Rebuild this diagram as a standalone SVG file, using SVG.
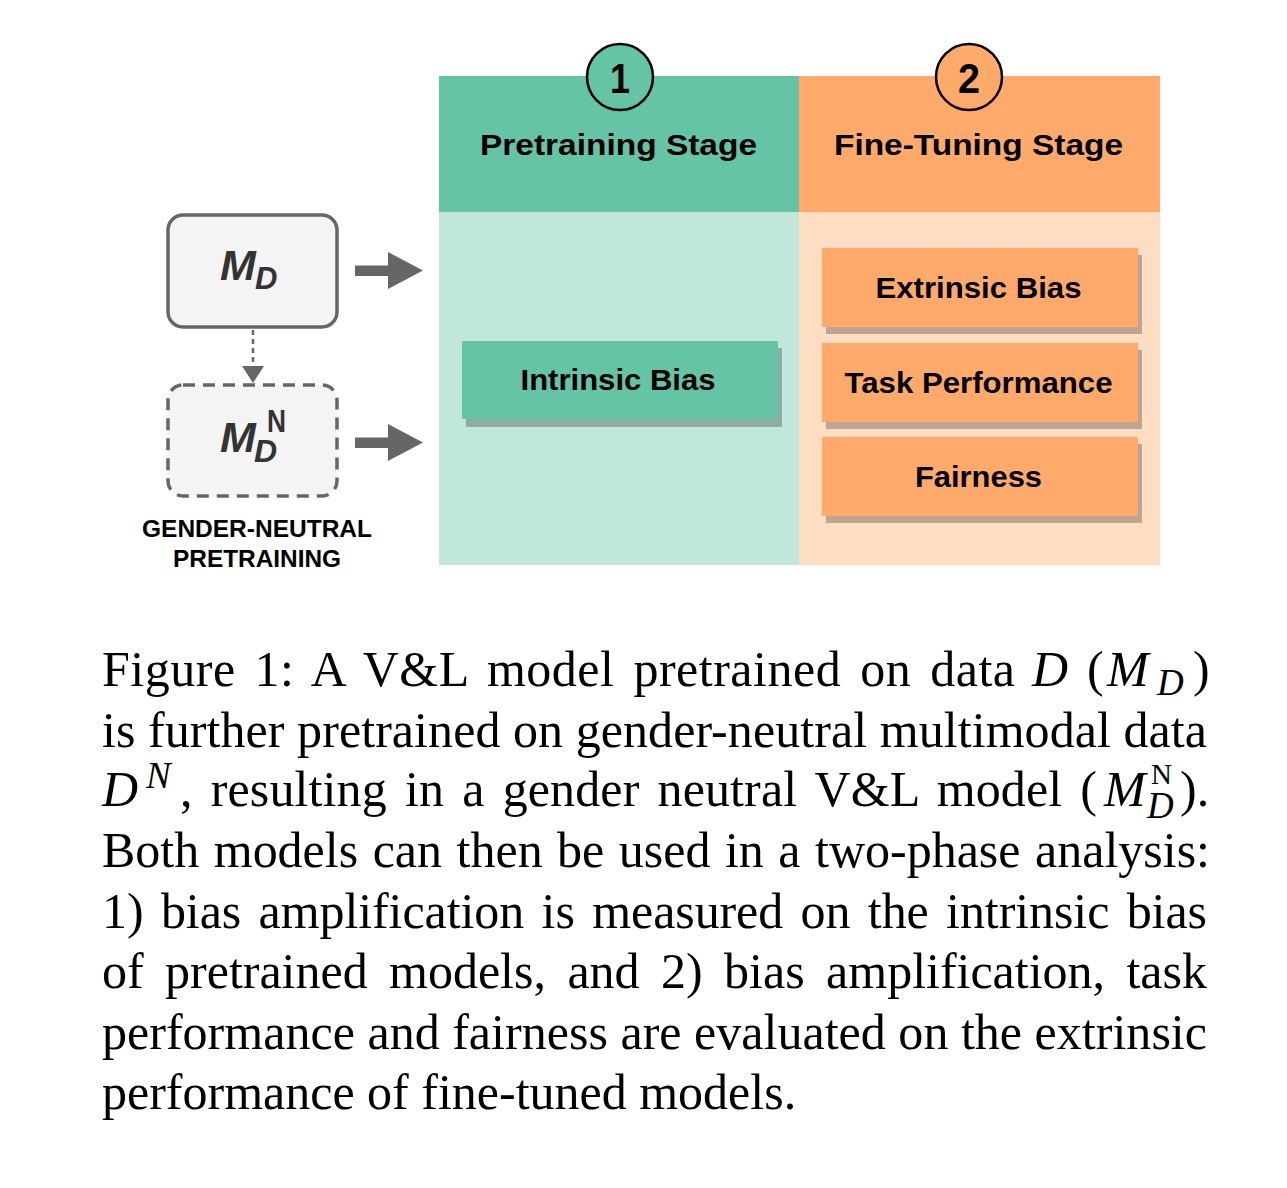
<svg xmlns="http://www.w3.org/2000/svg" width="1287" height="1188" viewBox="0 0 1287 1188">
<style>
.sans{font-family:"Liberation Sans",Arial,sans-serif;font-weight:bold;fill:#000}
.title{font-size:30px;text-anchor:middle}
.box{font-size:29px;text-anchor:middle}
.num{font-size:43px;text-anchor:middle}
.cap{font-family:"Liberation Serif","Times New Roman",serif;font-size:50px;fill:#000}
.cap.sub{font-size:37px}
.cap.sup{font-size:37px}
.cap.supn{font-size:29px}
.it{font-style:italic}
.shadow{fill:#000;fill-opacity:0.25}
.mtxt{font-family:"Liberation Sans",Arial,sans-serif;font-weight:bold;font-style:italic;fill:#333}
</style>
<rect x="0" y="0" width="1287" height="1188" fill="#fff"/>

<g id="stage1">
  <rect x="439" y="212" width="360" height="353" fill="#c0e7da"/>
  <rect x="439" y="76" width="360" height="136" fill="#64c4a5"/>
  <ellipse cx="620" cy="77" rx="33" ry="33" fill="#64c4a5" stroke="#000" stroke-width="2.5"/>
  <text class="sans num" x="620" y="93" textLength="20" lengthAdjust="spacingAndGlyphs">1</text>
  <text class="sans title" x="618.5" y="155" textLength="277" lengthAdjust="spacingAndGlyphs">Pretraining Stage</text>
</g>
<g id="stage2">
  <rect x="799" y="212" width="361" height="353" fill="#ffddc2"/>
  <rect x="799" y="76" width="361" height="136" fill="#ffaa6a"/>
  <ellipse cx="969" cy="77" rx="33" ry="33" fill="#ffaa6a" stroke="#000" stroke-width="2.5"/>
  <text class="sans num" x="969" y="93" textLength="22" lengthAdjust="spacingAndGlyphs">2</text>
  <text class="sans title" x="978.5" y="155" textLength="289" lengthAdjust="spacingAndGlyphs">Fine-Tuning Stage</text>
</g>

<g id="intrinsic-bias">
  <rect class="shadow" x="466" y="348" width="316" height="79"/>
  <rect x="462" y="341" width="316" height="78" fill="#64c4a5"/>
  <text class="sans box" x="618" y="390" textLength="195" lengthAdjust="spacingAndGlyphs">Intrinsic Bias</text>
</g>
<g id="extrinsic-bias">
  <rect class="shadow" x="826" y="255" width="316" height="79"/>
  <rect x="822" y="248" width="316" height="79" fill="#ffaa6a"/>
  <text class="sans box" x="978.5" y="298" textLength="206" lengthAdjust="spacingAndGlyphs">Extrinsic Bias</text>
</g>
<g id="task-performance">
  <rect class="shadow" x="826" y="350" width="316" height="79"/>
  <rect x="822" y="343" width="316" height="79" fill="#ffaa6a"/>
  <text class="sans box" x="978.5" y="393" textLength="268" lengthAdjust="spacingAndGlyphs">Task Performance</text>
</g>
<g id="fairness">
  <rect class="shadow" x="826" y="444" width="316" height="79"/>
  <rect x="822" y="437" width="316" height="79" fill="#ffaa6a"/>
  <text class="sans box" x="978.5" y="487" textLength="127" lengthAdjust="spacingAndGlyphs">Fairness</text>
</g>

<g id="model-md">
  <rect x="168" y="215" width="169" height="112" rx="15" ry="15" fill="#f4f4f4" stroke="#666" stroke-width="3.5"/>
  <text class="mtxt" x="220" y="280" font-size="43">M</text>
  <text class="mtxt" x="255" y="289" font-size="31">D</text>
</g>
<g id="model-mdn">
  <rect x="168" y="385" width="169" height="111" rx="15" ry="15" fill="#f4f4f4" stroke="#666" stroke-width="3.5" stroke-dasharray="12 8"/>
  <text class="mtxt" x="220" y="452" font-size="43">M</text>
  <text class="mtxt" x="254" y="462" font-size="32">D</text>
  <text class="sans" x="267" y="432" font-size="32" style="fill:#333" textLength="19" lengthAdjust="spacingAndGlyphs">N</text>
</g>
<g id="label-gender-neutral">
  <text class="sans" x="257" y="537" font-size="23" text-anchor="middle" textLength="230" lengthAdjust="spacingAndGlyphs">GENDER-NEUTRAL</text>
  <text class="sans" x="257" y="567" font-size="23" text-anchor="middle" textLength="168" lengthAdjust="spacingAndGlyphs">PRETRAINING</text>
</g>

<g id="connectors" fill="#666">
  <line x1="253" y1="330" x2="253" y2="367" stroke="#666" stroke-width="2.5" stroke-dasharray="5 4"/>
  <polygon points="242,366 264,366 253,383"/>
  <path d="M355,265.5 H388 V252 L423,270.5 L388,289 V276 H355 Z"/>
  <path d="M355,437.5 H388 V424 L423,442.5 L388,461 V448 H355 Z"/>
</g>

<g id="caption">
  <text class="cap" x="102" y="686" word-spacing="6" textLength="913" lengthAdjust="spacing">Figure 1: A V&amp;L model pretrained on data</text>
  <text class="cap it" x="1032" y="686">D</text>
  <text class="cap" x="1087" y="686">(</text>
  <text class="cap it" x="1107" y="686">M</text>
  <text class="cap sub it" x="1157" y="695">D</text>
  <text class="cap" x="1193" y="686">)</text>

  <text class="cap" x="102" y="747" textLength="1105" lengthAdjust="spacing">is further pretrained on gender-neutral multimodal data</text>

  <text class="cap it" x="102" y="806">D</text>
  <text class="cap sup it" x="146" y="788">N</text>
  <text class="cap" x="180" y="806" word-spacing="5.5" textLength="917" lengthAdjust="spacing">, resulting in a gender neutral V&amp;L model (</text>
  <text class="cap it" x="1104" y="806">M</text>
  <text class="cap supn" x="1151" y="784">N</text>
  <text class="cap sub it" x="1147" y="818">D</text>
  <text class="cap" x="1180" y="806">).</text>

  <text class="cap" x="102" y="867" word-spacing="2" textLength="1108" lengthAdjust="spacing">Both models can then be used in a two-phase analysis:</text>
  <text class="cap" x="102" y="928" word-spacing="5" textLength="1105" lengthAdjust="spacing">1) bias amplification is measured on the intrinsic bias</text>
  <text class="cap" x="102" y="988" word-spacing="9" textLength="1105" lengthAdjust="spacing">of pretrained models, and 2) bias amplification, task</text>
  <text class="cap" x="102" y="1049" textLength="1105" lengthAdjust="spacing">performance and fairness are evaluated on the extrinsic</text>
  <text class="cap" x="102" y="1109">performance of fine-tuned models.</text>
</g>
</svg>
